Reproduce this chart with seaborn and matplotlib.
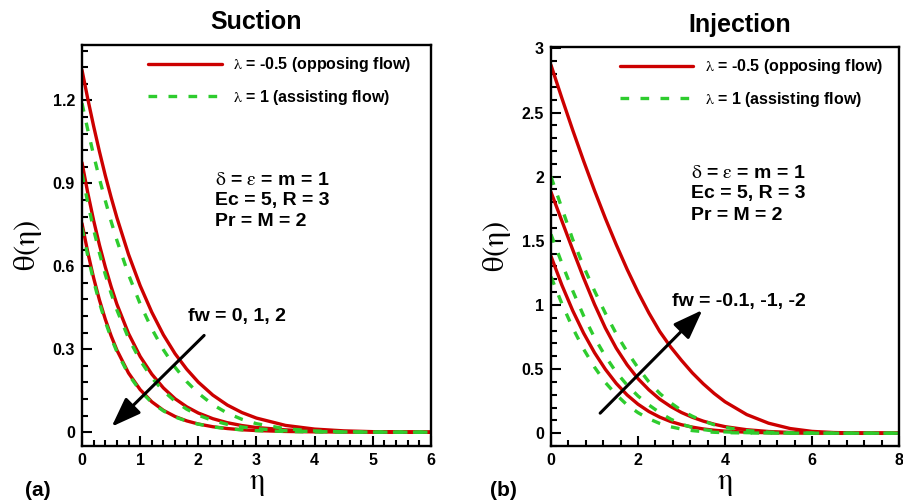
import matplotlib
matplotlib.use("Agg")
import matplotlib.pyplot as plt
from matplotlib.ticker import MultipleLocator, FuncFormatter
import seaborn as sns

# ----------------------------------------
# Data
# ----------------------------------------

# (a) Suction, fw = 0, 1, 2
eta_a = [0, 0.1, 0.2, 0.3, 0.4, 0.5, 0.6, 0.8, 1.0, 1.2, 1.4, 1.6, 1.8, 2.0,
         2.25, 2.5, 2.75, 3.0, 3.5, 4.0, 4.5, 5.0, 6.0]
fw_a = ["0", "1", "2"]
red_a = [
    [1.31, 1.205, 1.107, 1.015, 0.929, 0.850, 0.776, 0.643, 0.530, 0.434, 0.352, 0.284,
     0.228, 0.181, 0.134, 0.098, 0.071, 0.051, 0.0245, 0.0112, 0.0048, 0.0019, 0],
    [0.975, 0.865, 0.766, 0.677, 0.598, 0.527, 0.463, 0.357, 0.274, 0.210, 0.160, 0.121,
     0.0918, 0.0693, 0.0488, 0.0342, 0.024, 0.0169, 0.0084, 0.0042, 0.002, 0.001, 0],
    [0.755, 0.650, 0.558, 0.478, 0.409, 0.349, 0.297, 0.214, 0.154, 0.110, 0.079, 0.0568,
     0.0409, 0.0296, 0.0197, 0.0132, 0.0088, 0.0059, 0.0026, 0.0012, 0.0005, 0.0002, 0],
]
green_a = [
    [1.19, 1.093, 1.002, 0.917, 0.838, 0.763, 0.694, 0.570, 0.464, 0.374, 0.298, 0.235,
     0.183, 0.141, 0.0994, 0.0688, 0.0466, 0.0308, 0.0125, 0.0045, 0.0015, 0.0005, 0],
    [0.935, 0.829, 0.733, 0.648, 0.571, 0.503, 0.442, 0.340, 0.260, 0.197, 0.149, 0.112,
     0.0832, 0.0616, 0.0419, 0.0282, 0.0188, 0.0124, 0.0053, 0.0021, 0.0008, 0.0003, 0],
    [0.74, 0.637, 0.547, 0.468, 0.400, 0.342, 0.291, 0.209, 0.150, 0.107, 0.077, 0.055,
     0.040, 0.029, 0.019, 0.0128, 0.0085, 0.0057, 0.0025, 0.0011, 0.0005, 0.0002, 0],
]

# (b) Injection, fw = -0.1, -1, -2
eta_b = [0, 0.25, 0.5, 0.75, 1.0, 1.25, 1.5, 1.75, 2.0, 2.25, 2.5, 2.75, 3.0,
         3.25, 3.5, 3.75, 4.0, 4.5, 5.0, 5.5, 6.0, 6.5, 7.0, 8.0]
fw_b = ["-0.1", "-1", "-2"]
red_b = [
    [1.38, 1.155, 0.955, 0.78, 0.628, 0.498, 0.388, 0.298, 0.226, 0.169, 0.125, 0.091,
     0.066, 0.047, 0.033, 0.023, 0.016, 0.0075, 0.0035, 0.0015, 0.0007, 0.0003, 0, 0],
    [1.88, 1.655, 1.43, 1.21, 1.005, 0.82, 0.663, 0.533, 0.425, 0.338, 0.265, 0.208,
     0.161, 0.124, 0.094, 0.070, 0.051, 0.027, 0.013, 0.006, 0.003, 0.001, 0, 0],
    [2.87, 2.6125, 2.3625, 2.1225, 1.8925, 1.675, 1.47, 1.2775, 1.10, 0.9375, 0.7925,
     0.6725, 0.5675, 0.47, 0.385, 0.31, 0.245, 0.145, 0.078, 0.036, 0.014, 0.005, 0.002, 0],
]
green_b = [
    [1.22, 1.01, 0.82, 0.655, 0.515, 0.395, 0.30, 0.22, 0.16, 0.112, 0.076, 0.05,
     0.032, 0.02, 0.012, 0.007, 0.004, 0.0015, 0.0005, 0, 0, 0, 0, 0],
    [1.55, 1.325, 1.11, 0.915, 0.745, 0.60, 0.475, 0.375, 0.29, 0.22, 0.16, 0.11,
     0.07, 0.045, 0.028, 0.017, 0.01, 0.004, 0.0015, 0.0005, 0.0002, 0, 0, 0],
    [2.0, 1.755, 1.51, 1.30, 1.11, 0.935, 0.775, 0.635, 0.51, 0.40, 0.31, 0.237,
     0.177, 0.132, 0.095, 0.066, 0.045, 0.02, 0.008, 0.003, 0.001, 0, 0, 0],
]

RED = "#CC0000"
GREEN = "#2ECC2E"
DASH = (0, (2.6, 3.4))

# ----------------------------------------
# Style
# ----------------------------------------

sns.set_theme(style="ticks")
plt.rcParams["font.family"] = ["Liberation Sans", "DejaVu Sans"]
plt.rcParams["font.weight"] = "bold"
# greek letters: thin serif like the original symbol font
plt.rcParams["mathtext.fontset"] = "custom"
plt.rcParams["mathtext.rm"] = "STIXGeneral:weight=normal"
plt.rcParams["mathtext.it"] = "STIXGeneral:weight=normal"
plt.rcParams["mathtext.bf"] = "STIXGeneral:weight=bold"
plt.rcParams["mathtext.default"] = "rm"
plt.rcParams["axes.unicode_minus"] = False
for key in ["text.color", "axes.labelcolor", "xtick.color", "ytick.color",
            "axes.edgecolor"]:
    plt.rcParams[key] = "black"

fig = plt.figure(figsize=(9.04, 5.03), dpi=100)
ax_a = fig.add_axes([0.0907, 0.1133, 0.386, 0.797])
ax_b = fig.add_axes([0.6095, 0.1133, 0.385, 0.793])


def draw_curves(ax, eta, reds, greens):
    for i, vals in enumerate(reds):
        sns.lineplot(x=eta, y=vals, ax=ax, color=RED, lw=2.4, sort=False,
                     label=r"$\lambda$ = -0.5 (opposing flow)" if i == 0 else None)
    for i, vals in enumerate(greens):
        sns.lineplot(x=eta, y=vals, ax=ax, color=GREEN, lw=2.4, sort=False,
                     linestyle=DASH,
                     label=r"$\lambda$ = 1 (assisting flow)" if i == 0 else None)


def style_axes(ax, xlim, ylim, xmaj, xmin, ymaj, ymin, leg_x):
    ax.set_xlim(*xlim)
    ax.set_ylim(*ylim)
    ax.xaxis.set_major_locator(MultipleLocator(xmaj))
    ax.xaxis.set_minor_locator(MultipleLocator(xmin))
    ax.yaxis.set_major_locator(MultipleLocator(ymaj))
    ax.yaxis.set_minor_locator(MultipleLocator(ymin))
    fmt = FuncFormatter(lambda v, p: f"{v:g}")
    ax.xaxis.set_major_formatter(fmt)
    ax.yaxis.set_major_formatter(fmt)
    ax.tick_params(which="both", direction="in", top=False, right=False,
                   width=1.5, labelsize=11.5, pad=5)
    ax.tick_params(which="major", length=7)
    ax.tick_params(which="minor", length=4)
    for s in ax.spines.values():
        s.set_linewidth(1.7)
    ax.set_xlabel(r"$\eta$", fontsize=22)
    ax.set_ylabel(r"$\theta(\eta)$", fontsize=22)
    ax.xaxis.set_label_coords(0.5, -0.055)
    ax.yaxis.set_label_coords(-0.11, 0.5)
    ax.legend(loc="upper left", bbox_to_anchor=(leg_x, 0.975), frameon=False,
              fontsize=11.5, handlelength=4.6, handletextpad=0.7,
              labelspacing=0.85, borderpad=0, borderaxespad=0)


def params_text(ax, x, ys):
    lines = [r"$\delta$ = $\varepsilon$ = m = 1", "Ec = 5, R = 3", "Pr = M = 2"]
    for y, t in zip(ys, lines):
        ax.text(x, y, t, transform=ax.transAxes, fontsize=14,
                fontweight="bold", ha="left", va="center")


ARROW = dict(arrowstyle="-|>,head_length=0.6,head_width=0.22", lw=2.2,
             color="black", mutation_scale=30, shrinkA=0, shrinkB=0)

# ----------------------------------------
# (a) Suction
# ----------------------------------------

draw_curves(ax_a, eta_a, red_a, green_a)
style_axes(ax_a, (0, 6), (-0.05, 1.4), 1, 0.2, 0.3, 0.06, 0.19)
params_text(ax_a, 0.381, [0.663, 0.613, 0.561])
ax_a.text(0.5, 1.057, "Suction", transform=ax_a.transAxes, fontsize=18,
          fontweight="bold", ha="center", va="center")
ax_a.annotate("", xy=(0.51, 0.02), xytext=(2.1, 0.35), arrowprops=ARROW)
ax_a.text(0.304, 0.322, "fw = " + ", ".join(fw_a), transform=ax_a.transAxes,
          fontsize=14, fontweight="bold", ha="left", va="center")

# ----------------------------------------
# (b) Injection
# ----------------------------------------

draw_curves(ax_b, eta_b, red_b, green_b)
style_axes(ax_b, (0, 8), (-0.1, 3.01), 2, 0.4, 0.5, 0.1, 0.198)
params_text(ax_b, 0.402, [0.684, 0.632, 0.579])
ax_b.text(0.543, 1.055, "Injection", transform=ax_b.transAxes, fontsize=18,
          fontweight="bold", ha="center", va="center")
ax_b.annotate("", xy=(3.48, 0.96), xytext=(1.13, 0.156), arrowprops=ARROW)
ax_b.text(0.347, 0.362, "fw = " + ", ".join(fw_b), transform=ax_b.transAxes,
          fontsize=14, fontweight="bold", ha="left", va="center")

fig.text(25 / 904, 1 - 490 / 503, "(a)", fontsize=15, fontweight="bold",
         ha="left", va="center")
fig.text(490 / 904, 1 - 490 / 503, "(b)", fontsize=15, fontweight="bold",
         ha="left", va="center")

fig.savefig("out.png", dpi=100)
